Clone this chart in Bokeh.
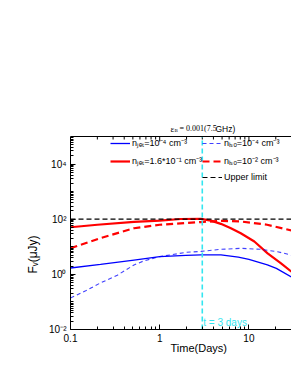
from bokeh.plotting import figure
from bokeh.models import (FixedTicker, Label, Legend, LegendItem, Span, Title,
                          CustomJSTickFormatter)
from bokeh.embed import file_html
from bokeh.resources import INLINE

# ---- data ----
t_jet_low = [0.1, 0.217, 0.515, 1.0, 1.97, 2.9, 4.86, 7.6, 10.0, 16.1, 20.3, 30.0]
f_jet_low = [1.7, 2.3, 3.3, 4.4, 4.9, 5.1, 5.1, 4.2, 3.5, 2.2, 1.64, 0.8]

t_iso_low = [0.1, 0.15, 0.217, 0.335, 0.515, 0.667, 1.0, 2.0, 2.9, 4.86, 8.1, 13.6, 21.0, 30.0]
f_iso_low = [0.14, 0.26, 0.49, 0.93, 2.2, 3.1, 4.4, 6.3, 6.8, 8.1, 8.8, 8.1, 6.6, 5.0]

t_jet_high = [0.1, 0.2, 0.515, 1.0, 1.72, 2.9, 3.74, 4.84, 6.28, 8.1, 11.5, 16.2, 22.9, 30.0]
f_jet_high = [51, 63, 80, 89, 102, 103, 89, 68, 47, 31, 15.5, 5.8, 2.5, 1.25]

t_iso_high = [0.1, 0.217, 0.515, 1.0, 2.9, 5.0, 8.1, 16.0, 30.0]
f_iso_high = [8.8, 20.6, 47, 63, 79, 87, 83, 63, 39]

t_limit = [0.1, 30.0]
f_limit = [100, 100]

t_mark = 3.0

x_major = [0.1, 1, 10]
x_minor = [0.2, 0.3, 0.4, 0.5, 0.6, 0.7, 0.8, 0.9, 2, 3, 4, 5, 6, 7, 8, 9, 20, 30]
y_major = [1e-2, 1e0, 1e2, 1e4]
y_minor = [m * 10.0 ** k for k in range(-2, 5) for m in range(1, 10)
           if not (m == 1 and k in (-2, 0, 2, 4))]
y_box_bottom = 1e-2
y_box_top = 1e5

legend_labels = ["nⱼₑₜ=10⁻⁴ cm⁻³", "nⱼₑₜ=1.6*10⁻¹ cm⁻³",
                 "nᵢₛₒ=10⁻⁴ cm⁻³", "nᵢₛₒ=10⁻² cm⁻³", "Upper limit"]

FONT = "Liberation Sans"
SERIF = "Liberation Serif"

# frame covers the title strip too; the box top is drawn at y_box_top
PX_PER_DEC = 193 / 7.0
y_top = y_box_top * 10 ** (31 / PX_PER_DEC)

p = figure(width=291, height=376, x_axis_type="log", y_axis_type="log",
           x_range=(0.1, 30), y_range=(y_box_bottom, y_top),
           output_backend="svg", toolbar_location=None,
           min_border_left=70, min_border_right=0,
           min_border_top=105, min_border_bottom=47)
p.outline_line_color = None
p.grid.visible = False
p.background_fill_color = "white"
p.border_fill_color = "white"

xfmt = CustomJSTickFormatter(code="return tick.toString();")
yfmt = CustomJSTickFormatter(code="""
const e = Math.round(Math.log10(tick));
const sup = {"-":"⁻","0":"⁰","1":"¹","2":"²","3":"³","4":"⁴","5":"⁵"};
return "10" + String(e).split("").map(c => sup[c]).join("");
""")

for ax in (p.xaxis[0], p.yaxis[0]):
    ax.axis_line_color = "black"
    ax.axis_line_width = 1
    ax.major_tick_in = 5
    ax.major_tick_out = 0
    ax.minor_tick_in = 3
    ax.minor_tick_out = 0
    ax.major_tick_line_color = "black"
    ax.minor_tick_line_color = "black"
    ax.major_label_text_font = FONT
    ax.major_label_text_font_size = "10px"
    ax.major_label_text_color = "black"

p.xaxis.ticker = FixedTicker(ticks=x_major, minor_ticks=x_minor)
p.xaxis.formatter = xfmt
p.xaxis.major_label_standoff = 4
p.yaxis.ticker = FixedTicker(ticks=y_major, minor_ticks=y_minor)
p.yaxis.formatter = yfmt
p.yaxis.major_label_standoff = 4
p.yaxis.bounds = (y_box_bottom, y_box_top)

# box top with inward ticks
p.add_layout(Span(location=y_box_top, dimension="width", line_color="black", line_width=1))
maj_in = y_box_top / 10 ** (5 / PX_PER_DEC)
min_in = y_box_top / 10 ** (3 / PX_PER_DEC)
p.segment(x0=x_major, y0=[y_box_top] * len(x_major), x1=x_major, y1=[maj_in] * len(x_major),
          line_color="black", line_width=1)
p.segment(x0=x_minor, y0=[y_box_top] * len(x_minor), x1=x_minor, y1=[min_in] * len(x_minor),
          line_color="black", line_width=1)

# ---- curves ----
BLUE = "#0000ff"
RED = "#ff0000"
CYAN = "#33e6f0"
r1 = p.line(t_jet_low, f_jet_low, line_color=BLUE, line_width=1.3)
r2 = p.line(t_jet_high, f_jet_high, line_color=RED, line_width=2.2)
r3 = p.line(t_iso_low, f_iso_low, line_color=BLUE, line_alpha=0.75, line_width=1.1, line_dash="4 3")
r4 = p.line(t_iso_high, f_iso_high, line_color=RED, line_width=2.2, line_dash="7 4")
r5 = p.line(t_limit, f_limit, line_color="black", line_width=1.2, line_dash="5 3")

# vertical marker at t = 3 days, inside the box only
p.segment(x0=[t_mark], y0=[y_box_bottom], x1=[t_mark], y1=[y_box_top],
          line_color=CYAN, line_width=1.6, line_dash="5 3")
p.add_layout(Label(x=t_mark, y=0.018, x_offset=1, text="t = 3 days",
                   text_color=CYAN, text_font=FONT, text_font_size="10px",
                   text_baseline="middle", text_align="left"))

def mk_legend(items, loc):
    return Legend(items=items, location=loc, orientation="vertical",
                  border_line_color=None, background_fill_alpha=0,
                  label_text_font=FONT, label_text_font_size="9px",
                  label_text_color="black",
                  glyph_width=20, glyph_height=10, label_height=10,
                  label_standoff=2, spacing=5, padding=0, margin=0)

leg1 = mk_legend([LegendItem(label=legend_labels[0], renderers=[r1]),
                  LegendItem(label=legend_labels[1], renderers=[r2])], (40, 162))
leg2 = mk_legend([LegendItem(label=legend_labels[2], renderers=[r3]),
                  LegendItem(label=legend_labels[3], renderers=[r4]),
                  LegendItem(label=legend_labels[4], renderers=[r5])], (132, 147))
p.add_layout(leg1, "center")
p.add_layout(leg2, "center")

# ---- title (pieces, inside the frame strip above the box) ----
def lab(x, y, text, size, font=FONT):
    p.add_layout(Label(x=x, y=y, x_units="screen", y_units="screen", text=text,
                       text_font=font, text_font_size=size,
                       text_align="left", text_baseline="alphabetic", text_color="black"))

lab(100, 201, "ε", "9px", SERIF)
lab(104, 199, "B", "5px", SERIF)
lab(109, 201, "= 0.001(7.5", "8px", SERIF)
lab(145, 201, "GHz)", "8.5px", FONT)

# ---- axis labels ----
p.add_layout(Title(text="Time(Days)", align="left", offset=100, standoff=-6,
                   vertical_align="top", text_color="black",
                   text_font=FONT, text_font_size="11px", text_font_style="normal"), "below")
p.add_layout(Title(text="Fᵥ(μJy)", align="left", offset=56, standoff=14,
                   text_color="black",
                   text_font=FONT, text_font_size="12px", text_font_style="normal"), "left")

open("out.html", "w").write(file_html(p, INLINE))
